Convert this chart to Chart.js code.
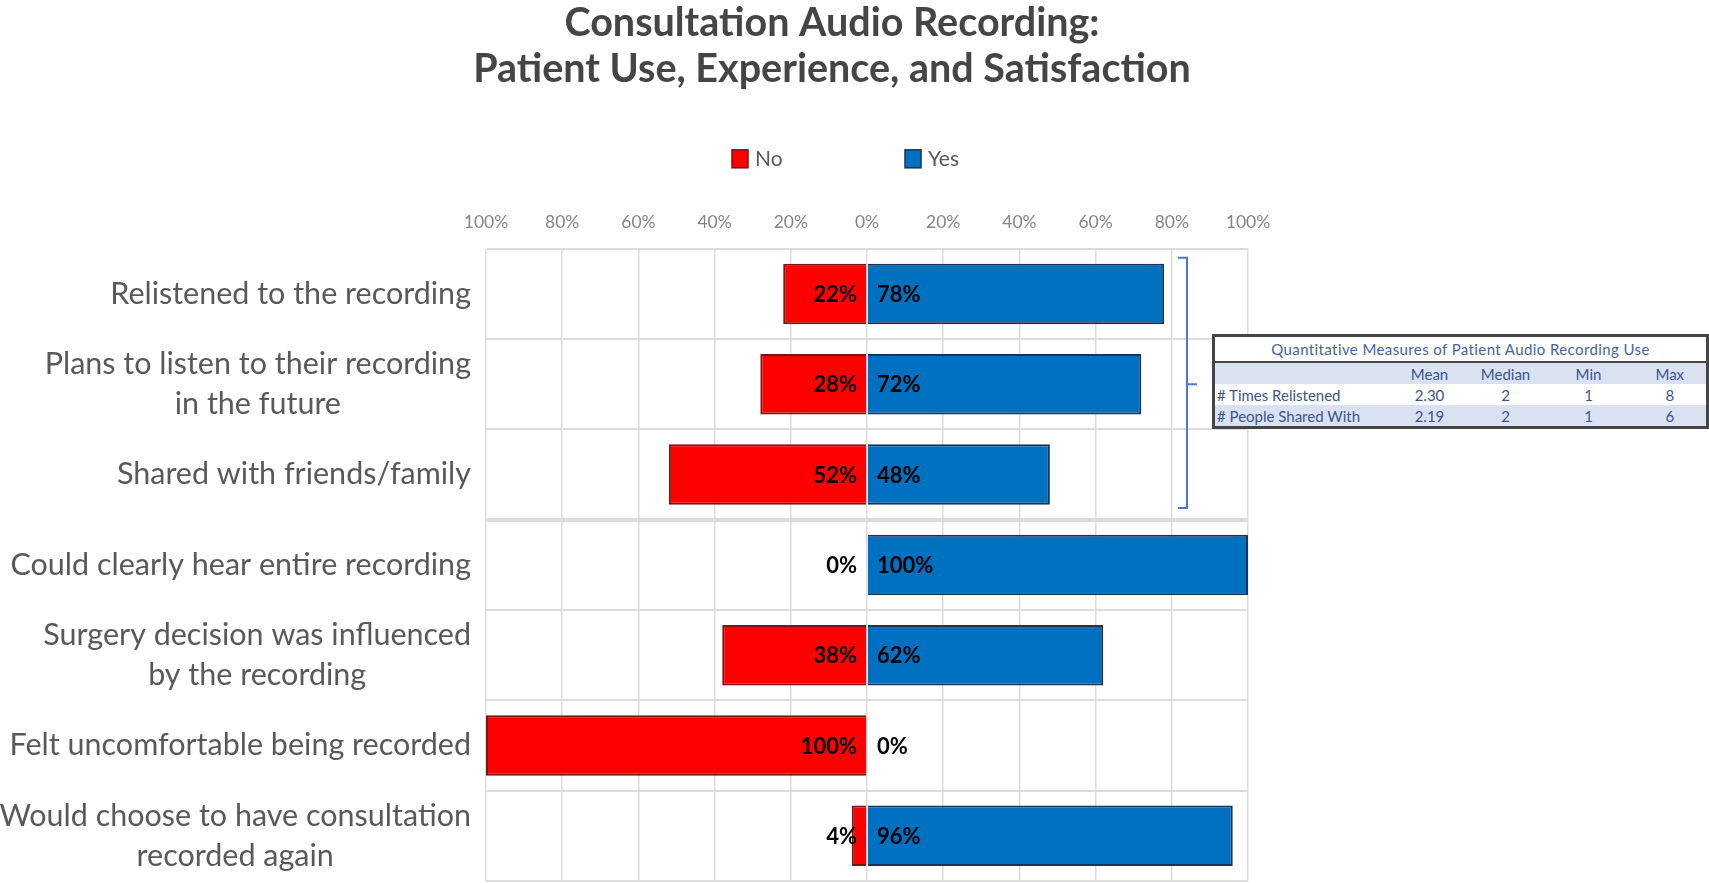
<!DOCTYPE html>
<html>
<head>
<meta charset="utf-8">
<script src="https://cdn.jsdelivr.net/npm/chart.js@4.4.0/dist/chart.umd.min.js"></script>
<style>
    html, body { margin: 0; padding: 0; background: #fff; }
    #wrap { position: relative; width: 1709px; height: 883px; overflow: hidden; }
    #quant {
        position: absolute; left: 1212px; top: 334px; width: 494px;
        table-layout: fixed;
        border-collapse: collapse; border: 3px solid #454545;
        font-family: Lato, sans-serif; font-size: 15px; color: #3b5592;
        background: #fff;
    }
    #quant td { padding: 0 2px; height: 21px; text-align: center; white-space: nowrap; overflow: hidden; }
    #quant td:first-child { text-align: left; }
    #quant tr.title td { height: 24px; color: #4464a8; border-bottom: 2px solid #454545; text-align: center; letter-spacing: 0.4px; }
    #quant tr.shade td { background: #dae2f1; }
</style>
</head>
<body>
<div id="wrap">
    <canvas id="chart" width="1709" height="883"></canvas>
    <table id="quant"></table>
</div>
<script>
const categories = [
    ["Relistened to the recording"],
    ["Plans to listen to their recording", "in the future"],
    ["Shared with friends/family"],
    ["Could clearly hear entire recording"],
    ["Surgery decision was influenced", "by the recording"],
    ["Felt uncomfortable being recorded"],
    ["Would choose to have consultation", "recorded again"]
];
const noValues = [22, 28, 52, 0, 38, 100, 4];
const yesValues = [78, 72, 48, 100, 62, 0, 96];

const tickValues = [-100, -80, -60, -40, -20, 0, 20, 40, 60, 80, 100];
const tickLabels = ["100%", "80%", "60%", "40%", "20%", "0%", "20%", "40%", "60%", "80%", "100%"];

const chartTitle = ["Consultation Audio Recording:", "Patient Use, Experience, and Satisfaction"];

const tableTitle = "Quantitative Measures of Patient Audio Recording Use";
const tableCols = ["", "Mean", "Median", "Min", "Max"];
const tableRows = ["# Times Relistened", "# People Shared With"];
const tableValues = [["2.30", "2", "1", "8"], ["2.19", "2", "1", "6"]];

const FONT = "Lato, 'Open Sans', sans-serif";

// the little stats table next to the bracket
function buildTable() {
    const tbl = document.getElementById("quant");
    const widths = [178, 76, 76, 90, 74];
    let html = `<colgroup>${widths.map(w => `<col style="width:${w}px">`).join("")}</colgroup>`;
    html += `<tr class="title"><td colspan="5" style="text-align:center">${tableTitle}</td></tr>`;
    html += `<tr class="shade">${tableCols.map(c => `<td>${c}</td>`).join("")}</tr>`;
    tableRows.forEach((r, i) => {
        const cls = i % 2 === 1 ? ' class="shade"' : "";
        html += `<tr${cls}><td>${r}</td>${tableValues[i].map(v => `<td>${v}</td>`).join("")}</tr>`;
    });
    tbl.innerHTML = html;
}
buildTable();

const decorPlugin = {
    id: "decor",
    afterDatasetsDraw(chart) {
        const { ctx } = chart;
        const zero = chart.scales.x.getPixelForValue(0);
        ctx.save();
        ctx.font = `bold 22px ${FONT}`;
        ctx.fillStyle = "#000";
        ctx.textBaseline = "middle";
        const meta = chart.getDatasetMeta(1);
        meta.data.forEach((bar, i) => {
            ctx.textAlign = "right";
            ctx.fillText(noValues[i] + "%", zero - 10, bar.y + 1);
            ctx.textAlign = "left";
            ctx.fillText(yesValues[i] + "%", zero + 10, bar.y + 1);
        });
        ctx.restore();
    },
    afterDraw(chart) {
        const { ctx, chartArea } = chart;
        const y = chart.scales.y;
        const rowH = y.getPixelForValue(1) - y.getPixelForValue(0);

        // category labels: block right aligned, lines centred inside the block
        ctx.save();
        ctx.font = `30.5px ${FONT}`;
        ctx.fillStyle = "#595959";
        ctx.textBaseline = "middle";
        ctx.textAlign = "center";
        const labelRight = chartArea.left - 15;
        categories.forEach((lines, i) => {
            const cy = y.getPixelForValue(i);
            const w = Math.max(...lines.map(l => ctx.measureText(l).width));
            const cx = labelRight - w / 2;
            lines.forEach((l, k) => {
                ctx.fillText(l, cx, cy + (k - (lines.length - 1) / 2) * 40);
            });
        });
        ctx.restore();

        // legend
        ctx.save();
        const legendX = [732, 905];
        const legendY = chartArea.top - 90;
        ctx.font = `21px ${FONT}`;
        ctx.textBaseline = "middle";
        ctx.textAlign = "left";
        chart.data.datasets.forEach((ds, i) => {
            ctx.fillStyle = ds.backgroundColor;
            ctx.fillRect(legendX[i], legendY - 9, 16, 18);
            ctx.strokeStyle = ds.borderColor;
            ctx.lineWidth = 1.5;
            ctx.strokeRect(legendX[i], legendY - 9, 16, 18);
            ctx.fillStyle = "#595959";
            ctx.fillText(ds.label, legendX[i] + 23, legendY);
        });
        ctx.restore();

        // bracket for the first three rows
        ctx.save();
        const bx = chartArea.right - 61;
        const yTop = y.getPixelForValue(0) - 0.4 * rowH;
        const yBot = y.getPixelForValue(2) + 0.37 * rowH;
        const yMid = y.getPixelForValue(1);
        ctx.strokeStyle = "#4a78d0";
        ctx.lineWidth = 2;
        ctx.beginPath();
        ctx.moveTo(bx - 9, yTop);
        ctx.lineTo(bx, yTop);
        ctx.lineTo(bx, yBot);
        ctx.lineTo(bx - 9, yBot);
        ctx.moveTo(bx, yMid);
        ctx.lineTo(bx + 10, yMid);
        ctx.stroke();
        ctx.restore();
    }
};

const zeroless = c => (c.raw === 0 ? 0 : 2);

new Chart(document.getElementById("chart"), {
    type: "bar",
    data: {
        labels: categories.map(c => c.join(" ")),
        datasets: [
            {
                label: "No",
                data: noValues.map(v => -v),
                backgroundColor: "#ff0000",
                borderColor: "#7a1515",
                borderWidth: zeroless,
                borderSkipped: "start"
            },
            {
                label: "Yes",
                data: yesValues,
                backgroundColor: "#0070c0",
                borderColor: "#1b3455",
                borderWidth: zeroless,
                borderSkipped: "start"
            }
        ]
    },
    options: {
        indexAxis: "y",
        responsive: false,
        animation: false,
        layout: { padding: { left: 416, right: 461, top: 0, bottom: 2 } },
        datasets: { bar: { barPercentage: 0.67, categoryPercentage: 1.0 } },
        plugins: {
            legend: { display: false },
            tooltip: { enabled: false },
            title: {
                display: true,
                text: chartTitle,
                color: "#454545",
                font: { family: FONT, size: 39.5, weight: "bold", lineHeight: 1.175 },
                padding: { top: 0, bottom: 103 }
            }
        },
        scales: {
            x: {
                position: "top",
                stacked: true,
                min: -100,
                max: 100,
                afterBuildTicks: scale => { scale.ticks = tickValues.map(v => ({ value: v })); },
                ticks: {
                    callback: (v, i) => tickLabels[i],
                    color: "#858585",
                    font: { family: FONT, size: 17.5 },
                    padding: 16,
                    maxRotation: 0
                },
                grid: { color: "#dcdcdc", lineWidth: 1.5, drawTicks: false },
                border: { display: false }
            },
            y: {
                stacked: true,
                ticks: { display: false },
                grid: {
                    color: "#dcdcdc",
                    lineWidth: c => (c.index === 3 ? 4 : 2),
                    drawTicks: false
                },
                border: { display: false },
                afterFit: scale => { scale.width = 70; }
            }
        }
    },
    plugins: [decorPlugin]
});
</script>
</body>
</html>
